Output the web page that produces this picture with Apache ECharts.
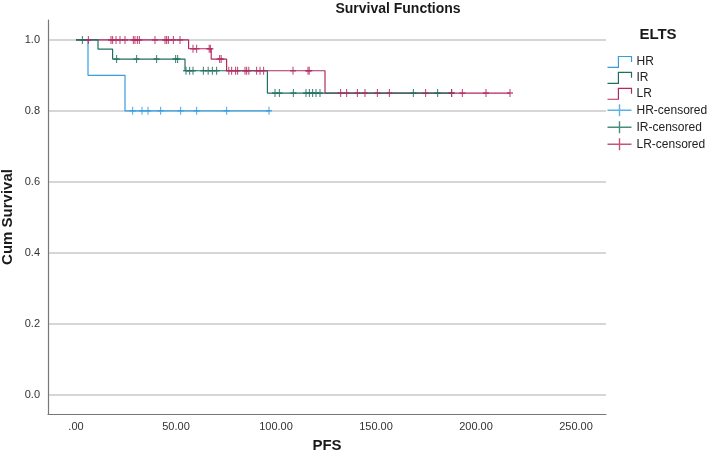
<!DOCTYPE html>
<html>
<head>
<meta charset="utf-8">
<script src="https://cdn.jsdelivr.net/npm/echarts@6/dist/echarts.min.js"></script>
<style>
  html, body { margin: 0; padding: 0; background: #fff; }
  #main { width: 709px; height: 462px; }
</style>
</head>
<body>
<div id="main"></div>
<script>
// Kaplan-Meier steps, [PFS, cum survival]
const hrSteps = [[0, 1], [6, 0.9], [24.5, 0.8], [97, 0.8]];
const irSteps = [[0, 1], [11, 0.974], [18.3, 0.946], [54.5, 0.913], [95.7, 0.85], [188, 0.85]];
const lrSteps = [[0, 1], [56.3, 0.975], [67.6, 0.946], [75.3, 0.913], [124.5, 0.85], [217, 0.85]];

// censored cases
const hrCensored = [[28.3, 0.8], [33, 0.8], [36, 0.8], [42.3, 0.8], [52.3, 0.8], [60.3, 0.8], [75.3, 0.8], [96.5, 0.8]];
const irCensored = [
  [3.2, 1],
  [20.3, 0.946], [30.3, 0.946], [40.3, 0.946], [49.8, 0.946], [50.8, 0.946],
  [55, 0.913], [56.8, 0.913], [58.5, 0.913], [63.7, 0.913], [66.1, 0.913], [68.2, 0.913], [70.3, 0.913],
  [99.5, 0.85], [101.7, 0.85], [108.7, 0.85], [115, 0.85], [116.7, 0.85], [118.3, 0.85], [120, 0.85], [122, 0.85],
  [168.7, 0.85], [180.8, 0.85], [187.8, 0.85]
];
const lrCensored = [
  [6.2, 1], [17.5, 1], [18.3, 1], [20, 1], [22, 1], [24.5, 1], [28.7, 1], [29.5, 1], [30.7, 1], [31.7, 1],
  [39.5, 1], [44.5, 1], [45.3, 1], [46.2, 1], [48.7, 1], [52, 1],
  [58.5, 0.975], [60.3, 0.975], [66.6, 0.975], [67.2, 0.975],
  [71.8, 0.946], [72.6, 0.946],
  [76.4, 0.913], [77.8, 0.913], [79.8, 0.913], [80.8, 0.913], [84.5, 0.913], [85.3, 0.913], [86.4, 0.913],
  [90.3, 0.913], [92, 0.913], [93.8, 0.913], [108.5, 0.913], [116, 0.913], [116.6, 0.913],
  [132.3, 0.85], [135.3, 0.85], [140.7, 0.85], [144.5, 0.85], [150.7, 0.85], [156.7, 0.85],
  [174.8, 0.85], [187.8, 0.85], [193.2, 0.85], [205, 0.85], [217, 0.85]
];

const groups = ['HR', 'IR', 'LR'];
const xTicks = [0, 50, 100, 150, 200, 250];
const xTickLabels = ['.00', '50.00', '100.00', '150.00', '200.00', '250.00'];
const yTicks = [0, 0.2, 0.4, 0.6, 0.8, 1.0];
const yTickLabels = ['0.0', '0.2', '0.4', '0.6', '0.8', '1.0'];

const colors = { HR: '#359de0', IR: '#1f6e5f', LR: '#b4285f' };
const font = '"Liberation Sans", Arial, sans-serif';
const crossSymbol = 'path://M5,0L5,10M0,5L10,5';
const stepIcon = 'path://M0,11L10,11L10,1L22,1L22,6';
const crossIcon = 'path://M0,6L24,6M12,0L12,12';

const steps = { HR: hrSteps, IR: irSteps, LR: lrSteps };
const censored = { HR: hrCensored, IR: irCensored, LR: lrCensored };

let series = [];
groups.forEach(g => {
  series.push({
    name: g,
    type: 'line',
    step: 'end',
    showSymbol: false,
    data: steps[g],
    lineStyle: { color: colors[g], width: 1.2 },
    itemStyle: { color: colors[g] },
    z: g === 'IR' ? 3 : 2
  });
});
groups.forEach(g => {
  series.push({
    name: g + '-censored',
    type: 'scatter',
    symbol: crossSymbol,
    symbolSize: [6, 8],
    data: censored[g],
    itemStyle: { color: 'none', borderColor: colors[g], borderWidth: 1.3 },
    z: 4
  });
});

let legendData = [];
groups.forEach(g => legendData.push({
  name: g, icon: stepIcon,
  itemStyle: { color: 'none', borderColor: colors[g], borderWidth: 1.2 }
}));
groups.forEach(g => legendData.push({
  name: g + '-censored', icon: crossIcon,
  itemStyle: { color: 'none', borderColor: colors[g], borderWidth: 1.4 }
}));

let chart = echarts.init(document.getElementById('main'));
chart.setOption({
  animation: false,
  backgroundColor: '#fff',
  textStyle: { fontFamily: font },
  graphic: [
    { type: 'text', x: 398, y: 9,
      style: { text: 'Survival Functions', font: 'bold 14px ' + font, fill: '#1a1a1a', align: 'center', verticalAlign: 'middle' } },
    { type: 'text', x: 658, y: 35,
      style: { text: 'ELTS', font: 'bold 15px ' + font, fill: '#1a1a1a', align: 'center', verticalAlign: 'middle' } }
  ],
  legend: {
    orient: 'vertical',
    left: 605,
    top: 54,
    padding: 0,
    itemWidth: 24,
    itemHeight: 12,
    itemGap: 0,
    selectedMode: false,
    textStyle: { fontSize: 12, lineHeight: 12, color: '#222', fontFamily: font },
    data: legendData
  },
  grid: { left: 48, right: 103, top: 20, bottom: 48, outerBoundsMode: 'none', containLabel: false },
  xAxis: {
    type: 'value',
    min: -14,
    max: 265,
    name: 'PFS',
    nameLocation: 'middle',
    nameGap: 24,
    nameTextStyle: { fontSize: 15, fontWeight: 'bold', color: '#1a1a1a', verticalAlign: 'top' },
    axisLine: { onZero: false, lineStyle: { color: '#777', width: 1.2 } },
    axisTick: { show: false, customValues: xTicks },
    axisLabel: {
      customValues: xTicks,
      margin: 7,
      fontSize: 11,
      color: '#333',
      formatter: v => xTickLabels[xTicks.indexOf(v)]
    },
    splitLine: { show: false }
  },
  yAxis: {
    type: 'value',
    min: -0.054,
    max: 1.056,
    name: 'Cum Survival',
    nameLocation: 'middle',
    nameGap: 33,
    nameMoveOverlap: false,
    nameTextStyle: { fontSize: 15, fontWeight: 'bold', color: '#1a1a1a' },
    axisLine: { show: true, onZero: false, lineStyle: { color: '#777', width: 1.2 } },
    axisTick: { show: false, customValues: yTicks },
    axisLabel: {
      customValues: yTicks,
      margin: 8,
      fontSize: 11,
      color: '#333',
      formatter: v => yTickLabels[yTicks.findIndex(t => Math.abs(t - v) < 1e-6)]
    },
    splitLine: { show: true, lineStyle: { color: '#c8c8c8', width: 1.5 } }
  },
  series: series
});
</script>
</body>
</html>
